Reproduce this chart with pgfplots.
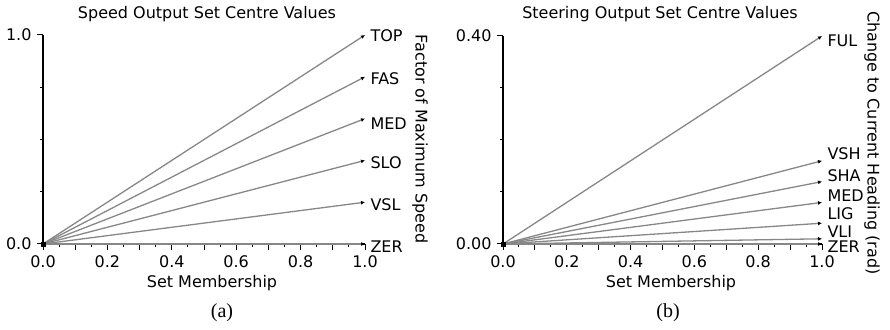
\documentclass[border=0pt]{standalone}
\usepackage{fontspec}
\setmainfont{DejaVu Sans}
\newfontfamily\capfont{Liberation Serif}
\usepackage{pgfplots}
\pgfplotsset{compat=1.18}
\usetikzlibrary{arrows.meta}
\definecolor{ln}{RGB}{135,135,135}

\begin{document}
\fontsize{16bp}{19bp}\selectfont
\begin{tikzpicture}[x=1bp,y=1bp]
\useasboundingbox (0bp,0bp) rectangle (890bp,330bp);
\pgfplotsset{
  base/.style={
    scale only axis, axis lines=left,
    axis line style={-, line width=1.3bp, black},
    xmin=0, xmax=1, ymin=0,
    tick align=outside,
    major tick length=6bp, minor tick length=3bp,
    every tick/.style={black, line width=1bp},
    xtick={0,0.1,0.2,0.3,0.4,0.5,0.6,0.7,0.8,0.9,1},
    xticklabels={0.0,,0.2,,0.4,,0.6,,0.8,,1.0},
    minor xtick={0.05,0.15,0.25,0.35,0.45,0.55,0.65,0.75,0.85,0.95},
    tick label style={font=\fontsize{16bp}{19bp}\selectfont},
    clip=false,
  },
  ser/.style={color=ln, line width=1.3bp, -{Latex[length=4bp,width=4bp,black]}},
}
% (a) speed
\begin{axis}[base, at={(43bp,86bp)}, anchor=south west, width=322bp, height=209bp,
  ymax=1, ytick={0,1}, yticklabels={0.0,1.0}, minor ytick={0.25,0.5,0.75}]
\addplot[ser] coordinates {(0,0) (1,1.0)};
\addplot[ser] coordinates {(0,0) (1,0.8)};
\addplot[ser] coordinates {(0,0) (1,0.6)};
\addplot[ser] coordinates {(0,0) (1,0.4)};
\addplot[ser] coordinates {(0,0) (1,0.2)};
\addplot[ser] coordinates {(0,0) (1,0.0)};
\addplot[only marks, mark=square*, mark size=1.8bp, black] coordinates {(0,0)};
\node[anchor=west] at (axis cs:1,0.995) {TOP};
\node[anchor=west] at (axis cs:1,0.79) {FAS};
\node[anchor=west] at (axis cs:1,0.575) {MED};
\node[anchor=west] at (axis cs:1,0.39) {SLO};
\node[anchor=west] at (axis cs:1,0.19) {VSL};
\node[anchor=west] at (axis cs:1,-0.015) {ZER};
\end{axis}
% (b) steering
\begin{axis}[base, at={(503bp,86bp)}, anchor=south west, width=319bp, height=208bp,
  ymax=0.4, ytick={0,0.4}, yticklabels={0.00,0.40}, minor ytick={0.1,0.2,0.3}]
\addplot[ser] coordinates {(0,0) (1,0.40)};
\addplot[ser] coordinates {(0,0) (1,0.16)};
\addplot[ser] coordinates {(0,0) (1,0.12)};
\addplot[ser] coordinates {(0,0) (1,0.08)};
\addplot[ser] coordinates {(0,0) (1,0.04)};
\addplot[ser] coordinates {(0,0) (1,0.01)};
\addplot[ser] coordinates {(0,0) (1,0.00)};
\addplot[only marks, mark=square*, mark size=1.8bp, black] coordinates {(0,0)};
\node[anchor=west] at (axis cs:1,0.390) {FUL};
\node[anchor=west] at (axis cs:1,0.173) {VSH};
\node[anchor=west] at (axis cs:1,0.131) {SHA};
\node[anchor=west] at (axis cs:1,0.092) {MED};
\node[anchor=west] at (axis cs:1,0.058) {LIG};
\node[anchor=west] at (axis cs:1,0.023) {VLI};
\node[anchor=west] at (axis cs:1,-0.006) {ZER};
\end{axis}
% titles and labels
\node at (207bp,316bp) {Speed Output Set Centre Values};
\node at (660bp,316bp) {Steering Output Set Centre Values};
\node at (212bp,47bp) {Set Membership};
\node at (671bp,47bp) {Set Membership};
\node[rotate=-90] at (420bp,191bp) {Factor of Maximum Speed};
\node[rotate=-90] at (872bp,187bp) {Change to Current Heading (rad)};
\node[font=\capfont\fontsize{20bp}{22bp}\selectfont] at (222bp,17bp) {(a)};
\node[font=\capfont\fontsize{20bp}{22bp}\selectfont] at (668bp,17bp) {(b)};
\end{tikzpicture}
\end{document}
